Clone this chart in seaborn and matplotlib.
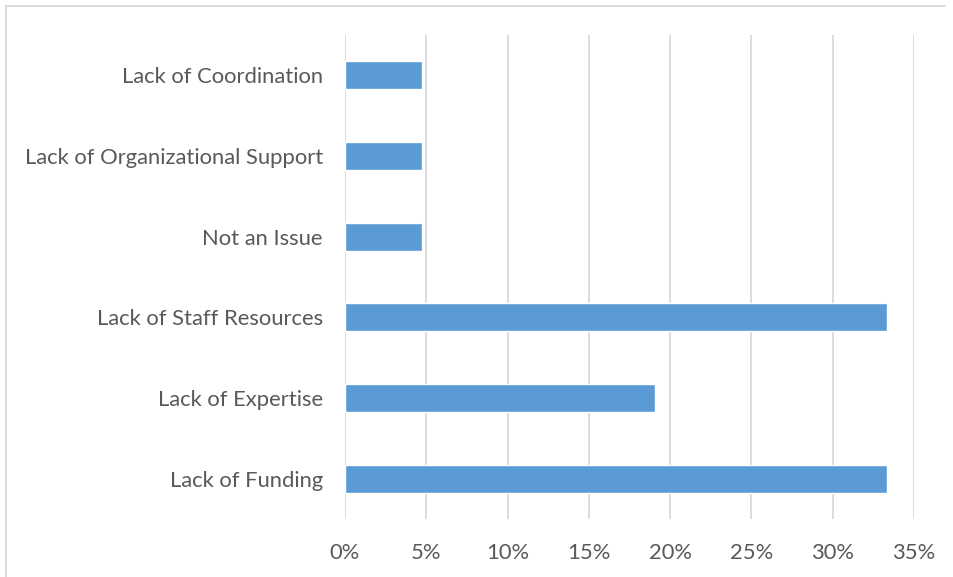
import matplotlib
matplotlib.use("Agg")
import matplotlib.pyplot as plt
from matplotlib.lines import Line2D
from matplotlib.ticker import PercentFormatter
import seaborn as sns
import pandas as pd

# Survey responses: barriers to implementation (share of respondents)
categories = [
    "Lack of Coordination",
    "Lack of Organizational Support",
    "Not an Issue",
    "Lack of Staff Resources",
    "Lack of Expertise",
    "Lack of Funding",
]
shares = [4.76, 4.76, 4.76, 33.33, 19.05, 33.33]
x_ticks = [0, 5, 10, 15, 20, 25, 30, 35]

df = pd.DataFrame({"category": categories, "share": shares})

sns.set_theme(style="white")
plt.rcParams["font.family"] = ["Lato", "DejaVu Sans"]

W, H = 954, 577
fig = plt.figure(figsize=(W / 100, H / 100), dpi=100)
ax = fig.add_axes([345 / W, 1 - 519 / H, (914 - 345) / W, (519 - 35) / H])

sns.barplot(data=df, x="share", y="category", order=categories,
            color="#5B9BD5", saturation=1, width=0.35, ax=ax)

ax.set_xlim(0, 35)
ax.set_xticks(x_ticks)
ax.xaxis.set_major_formatter(PercentFormatter(decimals=0))
ax.set_xlabel("")
ax.set_ylabel("")
ax.grid(axis="x", color="#D9D9D9", linewidth=1.3)
ax.grid(axis="y", visible=False)
ax.set_axisbelow(True)
for side in ax.spines:
    ax.spines[side].set_visible(False)
ax.tick_params(axis="both", length=0, labelsize=15.8, labelcolor="#595959")
ax.tick_params(axis="x", pad=17)
ax.tick_params(axis="y", pad=16)

# Chart-area frame along the top and left edges
fig.add_artist(Line2D([6 / W, 6 / W], [0, 1 - 6 / H], transform=fig.transFigure,
                      color="#D9D9D9", linewidth=1.3))
fig.add_artist(Line2D([6 / W, 945 / W], [1 - 6 / H, 1 - 6 / H], transform=fig.transFigure,
                      color="#D9D9D9", linewidth=1.3))

fig.savefig("out.png", dpi=100, facecolor="white")
